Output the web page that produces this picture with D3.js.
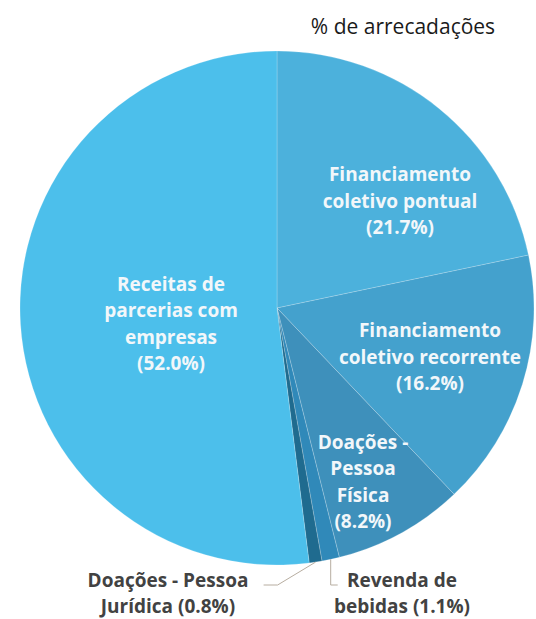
<!DOCTYPE html>
<html>
<head>
<meta charset="utf-8">
<script src="https://cdn.jsdelivr.net/npm/d3@7"></script>
<style>
  body { margin: 0; background: #fff; }
  svg { display: block; }
</style>
</head>
<body>
<svg id="pie-svg" width="536" height="619"></svg>
<script>
const categories = [
  ["Financiamento", "coletivo pontual"],
  ["Financiamento", "coletivo recorrente"],
  ["Doações -", "Pessoa", "Física"],
  ["Revenda de", "bebidas"],
  ["Doações - Pessoa", "Jurídica"],
  ["Receitas de", "parcerias com", "empresas"]
];
const shares = [21.7, 16.2, 8.2, 1.1, 0.8, 52.0];
const colors = ["#4cb1dc", "#44a1cd", "#3e90bb", "#3089b9", "#1f6b8f", "#4cbfeb"];

// label centres relative to pie centre, and whether label sits outside
const labelSpots = [[123, -107], [153, 49], [86, 174], [125, 272], [-109, 272], [-106, 16]];
const outside = [false, false, false, true, true, false];

const width = 536, height = 619;
const cx = 277, cy = 308, radius = 257;
const lineHeight = 26.5;

const svg = d3.select('#pie-svg');

svg.append('text')
  .attr('x', 403).attr('y', 34)
  .attr('text-anchor', 'middle')
  .attr('font-family', 'Open Sans, sans-serif')
  .attr('font-size', 21)
  .attr('fill', '#1a1a1a')
  .text('% de arrecadações');

const pie = d3.pie().sort(null).value((d) => d);
const arcs = pie(shares);
const arc = d3.arc().innerRadius(0).outerRadius(radius);

const g = svg.append('g').attr('transform', `translate(${cx}, ${cy})`);

g.selectAll('path').data(arcs).enter().append('path')
  .attr('d', arc)
  .attr('fill', (d, i) => colors[i])
  .attr('stroke', 'rgba(255,255,255,0.25)')
  .attr('stroke-width', 0.8);

// leader lines for the two small slices
arcs.forEach((d, i) => {
  if (!outside[i]) return;
  const mid = (d.startAngle + d.endAngle) / 2;
  const sx = Math.sin(mid) * radius, sy = -Math.cos(mid) * radius;
  const ly = labelSpots[i][1] + 5;
  let pts;
  if (labelSpots[i][0] > 0) {
    pts = [[sx, sy], [sx, ly], [sx + 7, ly]];
  } else {
    pts = [[sx, sy], [sx - 38, ly], [sx - 52, ly]];
  }
  g.append('path')
    .attr('d', d3.line()(pts))
    .attr('fill', 'none')
    .attr('stroke', '#b7ada0')
    .attr('stroke-width', 1);
});

arcs.forEach((d, i) => {
  const lines = categories[i].slice();
  const pct = `(${shares[i].toFixed(1)}%)`;
  if (outside[i]) {
    lines[lines.length - 1] += ` ${pct}`;
  } else {
    lines.push(pct);
  }
  const [lx, ly] = labelSpots[i];
  const top = outside[i] ? ly : ly - (lines.length - 1) * lineHeight / 2;
  const t = g.append('text')
    .attr('text-anchor', 'middle')
    .attr('font-family', 'Open Sans, sans-serif')
    .attr('font-weight', 'bold')
    .attr('font-size', 19)
    .attr('fill', outside[i] ? '#424242' : '#f2f7fa');
  lines.forEach((line, k) => {
    t.append('tspan')
      .attr('x', lx)
      .attr('y', top + k * lineHeight)
      .attr('dy', '0.35em')
      .text(line);
  });
});
</script>
</body>
</html>
